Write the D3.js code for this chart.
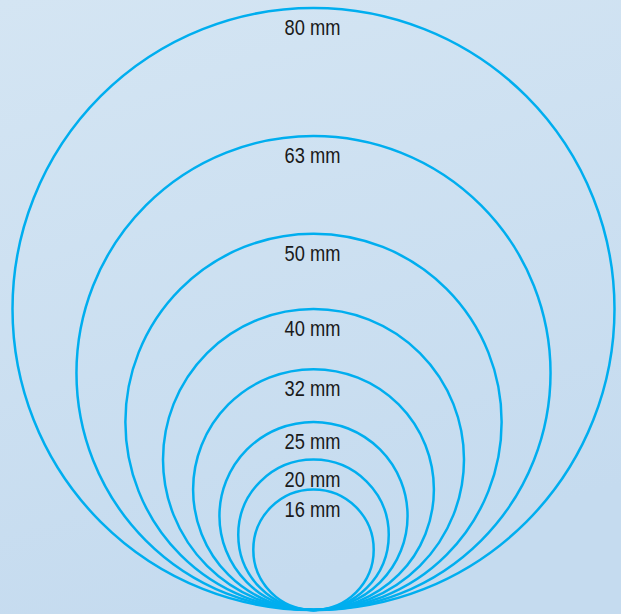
<!DOCTYPE html>
<html lang="en">
<head>
  <meta charset="UTF-8">
  <title>Pipe sizes</title>
  <script src="https://d3js.org/d3.v7.min.js"></script>
  <style>
    html, body { margin: 0; padding: 0; overflow: hidden; }
  </style>
</head>
<body>
  <svg id="svg" width="621" height="614"></svg>
  <script>
    // pipe diameters (mm), biggest first so small ones draw on top
    var sizes = [80, 63, 50, 40, 32, 25, 20, 16]
    var labels = ['80 mm', '63 mm', '50 mm', '40 mm', '32 mm', '25 mm', '20 mm', '16 mm']

    var W = 621, H = 614
    var cx = 313.5, baseY = 610   // common touching point at the bottom

    // mm -> diameter in px
    var diam = d3.scaleLinear()
      .domain([0, 80])
      .range([0, 602])

    var svg = d3.select('svg')

    var defs = svg.append('defs')
    var grad = defs.append('linearGradient')
      .attr('id', 'bg')
      .attr('x1', 0).attr('y1', 0)
      .attr('x2', 0.3).attr('y2', 1)
    grad.append('stop').attr('offset', '0%').attr('stop-color', '#d4e5f3')
    grad.append('stop').attr('offset', '100%').attr('stop-color', '#c5dbef')

    svg.append('rect')
      .attr('width', W)
      .attr('height', H)
      .attr('fill', 'url(#bg)')

    svg.selectAll('circle')
      .data(sizes)
      .enter()
      .append('circle')
      .attr('cx', cx)
      .attr('cy', d => baseY - diam(d) / 2)
      .attr('r', d => diam(d) / 2)
      .attr('fill', 'none')
      .attr('stroke', '#00aeef')
      .attr('stroke-width', 2.5)

    // condensed look: squeeze Liberation Sans horizontally
    svg.selectAll('text')
      .data(sizes)
      .enter()
      .append('text')
      .attr('transform', d => 'translate(' + (cx - 1) + ',' + (baseY - diam(d) + 27) + ') scale(0.85,1)')
      .attr('text-anchor', 'middle')
      .style('font-family', '"Liberation Sans", Arial, sans-serif')
      .style('font-size', '21.5px')
      .style('fill', '#1a1a1a')
      .text((d, i) => labels[i])
  </script>
</body>
</html>
